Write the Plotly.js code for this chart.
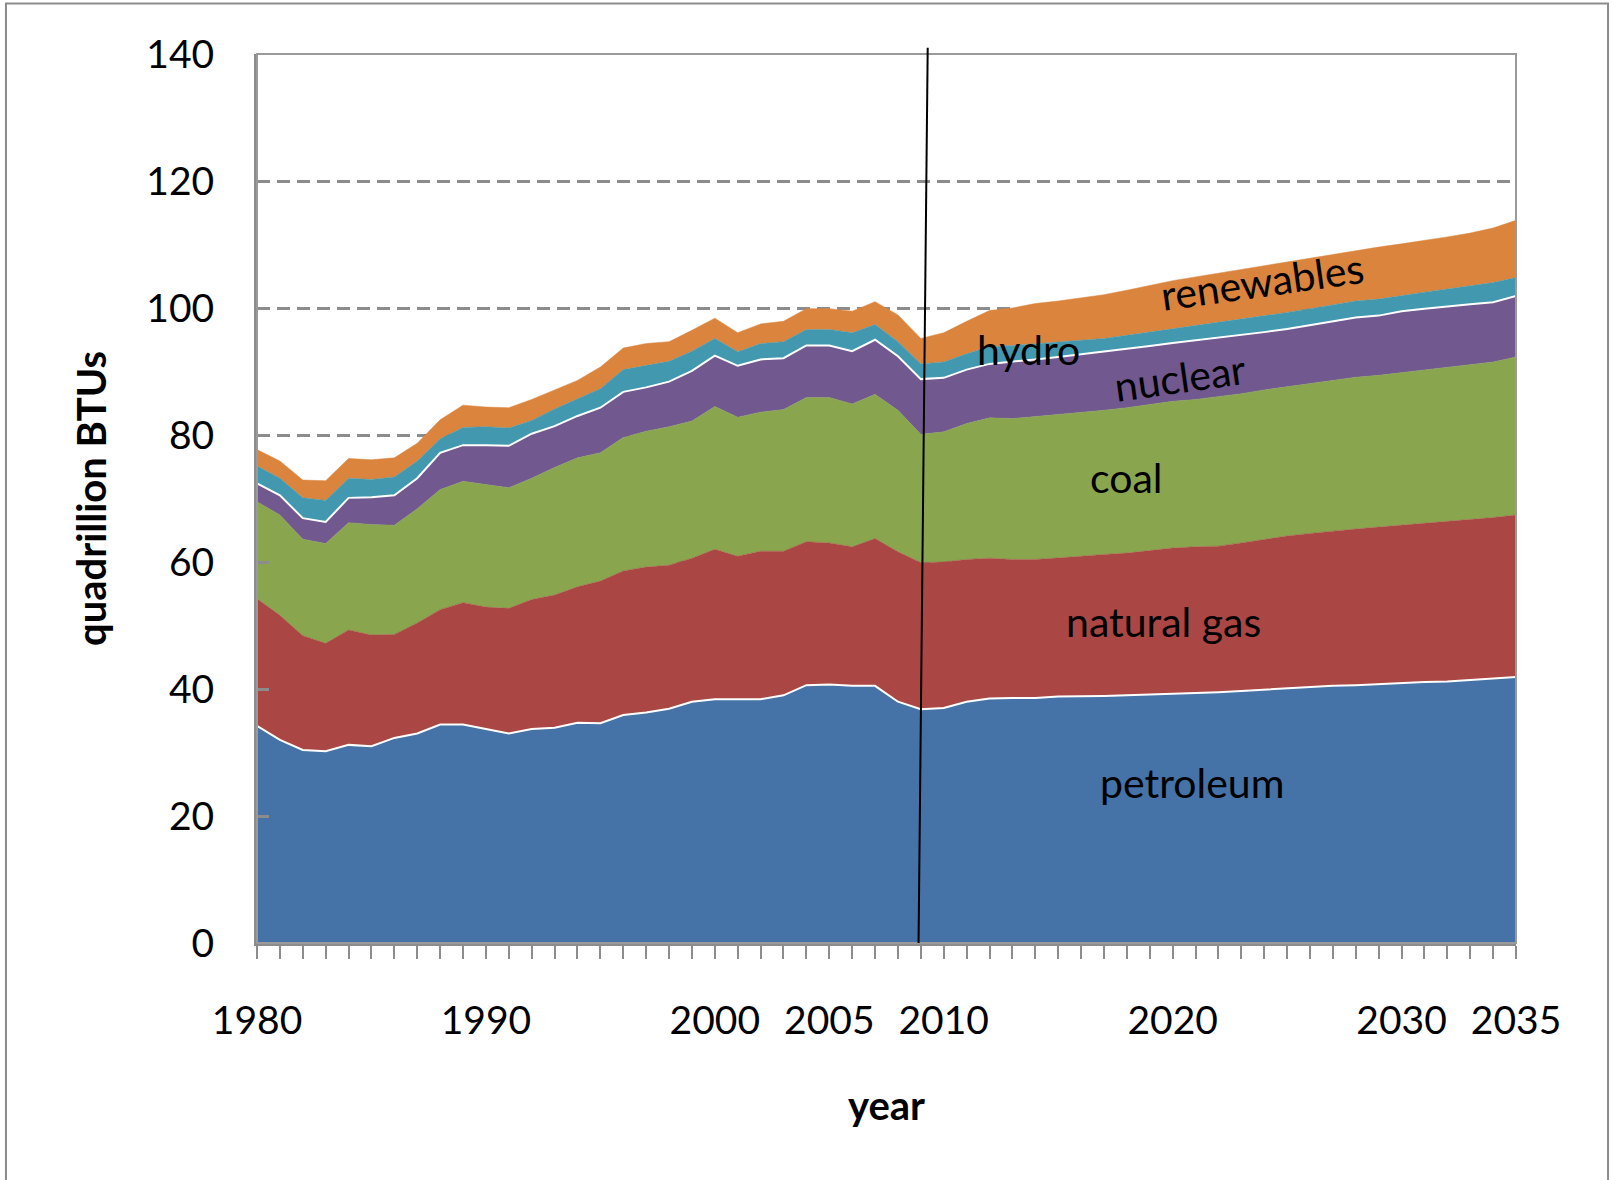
<!DOCTYPE html>
<html>
<head>
<meta charset="utf-8">
<script src="https://cdn.plot.ly/plotly-3.0.1.min.js"></script>
<style>
  html, body { margin: 0; padding: 0; background: #fff; }
  #chart { width: 1612px; height: 1180px; }
</style>
</head>
<body>
<div id="chart"></div>
<script>
// Years 1980..2035
const years = [];
for (let y = 1980; y <= 2035; y++) years.push(y);

// Cumulative tops (quadrillion BTU), per series
const petroleumTop = [34.2,32.0,30.4,30.2,31.2,31.0,32.3,33.0,34.4,34.4,33.7,33.0,33.7,33.9,34.7,34.6,35.9,36.3,36.9,38.0,38.4,38.4,38.4,39.0,40.6,40.7,40.5,40.5,38.0,36.8,37.0,38.0,38.5,38.6,38.6,38.8,38.8,38.9,39.0,39.1,39.3,39.4,39.5,39.7,39.9,40.2,40.4,40.5,40.6,40.8,40.9,41.1,41.2,41.4,41.7,41.9];
const gasTop = [54.2,51.6,48.4,47.2,49.3,48.5,48.6,50.4,52.5,53.6,52.9,52.7,54.1,54.8,56.1,57.0,58.6,59.2,59.5,60.6,62.0,60.9,61.7,61.7,63.2,63.0,62.4,63.7,61.6,59.9,60.0,60.4,60.6,60.4,60.4,60.6,60.9,61.2,61.4,61.8,62.2,62.4,62.5,63.0,63.6,64.1,64.5,64.9,65.2,65.5,65.8,66.0,66.3,66.6,67.0,67.4];
const coalTop = [69.5,67.4,63.6,62.9,66.2,65.9,65.8,68.4,71.4,72.7,72.2,71.7,73.2,74.9,76.4,77.2,79.6,80.6,81.3,82.2,84.5,82.8,83.6,84.0,85.9,85.9,84.9,86.4,83.9,80.1,80.5,81.8,82.7,82.6,82.9,83.2,83.5,83.9,84.3,84.8,85.3,85.6,86.0,86.5,87.1,87.6,88.2,88.7,89.1,89.4,89.8,90.2,90.7,91.1,91.5,92.3];
const nuclearTop = [72.4,70.5,66.9,66.3,70.1,70.2,70.5,73.2,77.2,78.4,78.4,78.3,80.2,81.4,83.0,84.3,86.8,87.5,88.4,90.1,92.5,90.9,91.9,92.1,94.1,94.1,93.2,95.0,92.4,88.8,89.0,90.3,91.2,91.5,91.9,92.3,92.7,93.1,93.5,94.0,94.5,94.9,95.3,95.7,96.2,96.7,97.3,97.9,98.5,98.8,99.5,99.9,100.3,100.6,100.9,101.9];
const hydroTop = [75.1,73.2,70.1,69.7,73.2,73.0,73.4,75.9,79.4,81.2,81.3,81.1,82.3,84.1,85.7,87.3,90.3,90.9,91.6,93.2,95.2,93.1,94.4,94.7,96.6,96.6,96.1,97.4,94.7,91.2,91.5,92.8,93.9,94.1,94.4,94.6,94.9,95.2,95.7,96.2,96.7,97.3,97.7,98.2,98.8,99.3,99.9,100.5,101.1,101.4,102.0,102.5,103.0,103.5,104.0,104.8];
const renewablesTop = [77.7,75.9,72.9,72.8,76.3,76.1,76.4,78.7,82.4,84.7,84.4,84.3,85.6,87.1,88.6,90.7,93.7,94.4,94.7,96.5,98.4,96.1,97.5,97.9,99.9,99.9,99.5,101.0,98.9,95.2,96.1,97.9,99.6,100.0,100.7,101.1,101.6,102.1,102.8,103.6,104.3,104.9,105.5,106.1,106.7,107.3,107.9,108.5,109.0,109.6,110.1,110.6,111.2,111.8,112.6,113.8];

const seriesNames = ['petroleum','natural gas','coal','nuclear','hydro','renewables'];
const seriesColors = ['#4572A7','#AA4643','#89A54E','#71588F','#4198AF','#DB843D'];
const tickYears = [1980,1990,2000,2005,2010,2020,2030,2035];

// derive each series' own value from the stacked tops
const tops = [petroleumTop, gasTop, coalTop, nuclearTop, hydroTop, renewablesTop];
const values = tops.map((t, k) => t.map((v, i) => k === 0 ? v : +(v - tops[k-1][i]).toFixed(2)));

const lineWidths = [2, 0, 0, 2, 0, 0];
const traces = values.map((vals, k) => ({
  type: 'scatter',
  mode: 'lines',
  x: years,
  y: vals,
  name: seriesNames[k],
  stackgroup: 'one',
  fillcolor: seriesColors[k],
  line: { color: lineWidths[k] ? '#ffffff' : seriesColors[k], width: lineWidths[k] || 0.5 },
  hoverinfo: 'x+y+name'
}));

const font = 'Lato, "Open Sans", sans-serif';
const labelFont = { family: font, size: 41, color: '#000' };

const annotations = [
  { text: 'petroleum', x: 2020.85, y: 25.3, angle: 0 },
  { text: 'natural gas', x: 2019.6, y: 50.7, angle: 0 },
  { text: 'coal', x: 2018.0, y: 73.3, angle: 0 },
  { text: 'nuclear', x: 2020.3, y: 89.0, angle: -8 },
  { text: 'hydro', x: 2013.7, y: 93.4, angle: 0 },
  { text: 'renewables', x: 2023.9, y: 104.2, angle: -8 }
].map(a => ({
  text: a.text, x: a.x, y: a.y, xref: 'x', yref: 'y', showarrow: false,
  textangle: a.angle, font: labelFont, xanchor: 'center', yanchor: 'middle'
}));

const layout = {
  width: 1612, height: 1180,
  margin: { l: 257, r: 96, t: 54, b: 237 },
  paper_bgcolor: '#ffffff',
  plot_bgcolor: '#ffffff',
  showlegend: false,
  xaxis: {
    range: [1980, 2035],
    tickmode: 'array',
    tickvals: years,
    ticktext: years.map(y => tickYears.includes(y) ? String(y) : ''),
    ticks: 'outside', ticklen: 13, tickwidth: 2, tickcolor: '#8c8c8c',
    showline: true, linecolor: '#8c8c8c', linewidth: 3,
    showgrid: false, zeroline: false,
    tickfont: { family: font, size: 39, color: '#000' },
    ticklabelstandoff: 28,
    title: { text: 'year', font: { family: font, size: 40, color: '#000', weight: 'bold' }, standoff: 52 }
  },
  yaxis: {
    range: [0, 140],
    tickmode: 'array',
    tickvals: [0,20,40,60,80,100,120,140],
    ticks: 'inside', ticklen: 12, tickwidth: 3, tickcolor: '#8c8c8c',
    showline: true, linecolor: '#8c8c8c', linewidth: 3,
    showgrid: true, gridcolor: '#8c8c8c', gridwidth: 3, griddash: '13px,7px',
    zeroline: false,
    tickfont: { family: font, size: 39, color: '#000' },
    ticklabelstandoff: 32,
    title: { text: 'quadrillion BTUs', font: { family: font, size: 40, color: '#000', weight: 'bold' }, standoff: 28 }
  },
  annotations: annotations,
  shapes: [
    // plot frame (top/right)
    { type: 'rect', xref: 'paper', yref: 'paper', x0: 0, x1: 1, y0: 0, y1: 1,
      line: { color: '#9a9a9a', width: 2 }, layer: 'above' },
    // outer chart border
    { type: 'rect', xref: 'paper', yref: 'paper', x0: -0.1994, x1: 1.0731, y0: -0.27, y1: 1.0568,
      line: { color: '#8c8c8c', width: 2 }, layer: 'above' },
    // divider between history and projection
    { type: 'line', xref: 'x', yref: 'paper', x0: 2008.9, x1: 2009.3, y0: 0, y1: 1.007,
      line: { color: '#000', width: 2 }, layer: 'above' }
  ]
};

Plotly.newPlot('chart', traces, layout, { displayModeBar: false, staticPlot: true });
</script>
</body>
</html>
